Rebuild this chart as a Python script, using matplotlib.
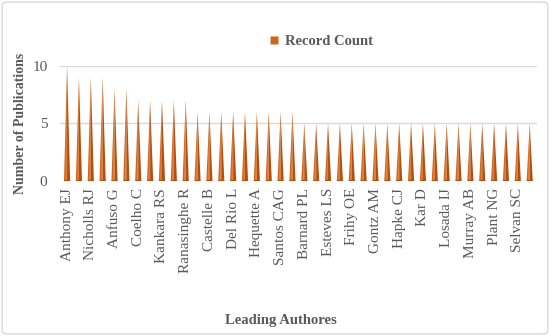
import numpy as np
import matplotlib as mpl; mpl.use("Agg")
import matplotlib.pyplot as plt
from matplotlib.patches import Ellipse, FancyBboxPatch
from matplotlib.lines import Line2D

# labelled authors (only every other category carries a visible label)
AUTHORS_SHOWN = ["Anthony EJ","Nicholls RJ","Anfuso G","Coelho C","Kankara RS",
                 "Ranasinghe R","Castelle B","Del Rio L","Hequette A","Santos CAG",
                 "Barnard PL","Esteves LS","Frihy OE","Gontz AM","Hapke CJ",
                 "Kar D","Losada IJ","Murray AB","Plant NG","Selvan SC"]
RECORD_COUNT = [10, 9, 9, 9, 8, 8, 7, 7, 7, 7,
                7, 6, 6, 6, 6, 6, 6, 6, 6, 6,
                5, 5, 5, 5, 5, 5, 5, 5, 5, 5,
                5, 5, 5, 5, 5, 5, 5, 5, 5, 5]
YTICKS = [0, 5, 10]

DARK = "#B4500F"; MID = "#D0661E"; LIGHT = "#EE9A5E"
GREY = "#595959"
mpl.rcParams.update({"font.family": ["Liberation Serif", "DejaVu Serif"]})

fig = plt.figure(figsize=(5.5, 3.36), dpi=100)
fig.patches.append(FancyBboxPatch((0.004, 0.006), 0.992, 0.988, boxstyle="round,pad=0,rounding_size=0.01",
                                  transform=fig.transFigure, fc="white", ec="#D9D9D9", lw=1.0, zorder=-10))
ax = fig.add_axes([0.109, 0.461, 0.867, 0.343])
ax.set_facecolor("none")

n = len(RECORD_COUNT)
xs = np.arange(n)
hw = 0.26
for x, v in zip(xs, RECORD_COUNT):
    # cone: darker right half, lighter left half
    ax.fill([x - hw, x, x], [0, v, 0], color=MID, lw=0, zorder=3)
    ax.fill([x, x + hw, x], [0, 0, v], color=DARK, lw=0, zorder=3)
    ax.fill([x - hw * 0.55, x, x - hw * 0.1], [0, v, 0], color=LIGHT, lw=0, alpha=0.55, zorder=4)
    ax.add_patch(Ellipse((x, 0), 2 * hw, 0.22, color=DARK, lw=0, zorder=5))

for t in YTICKS:
    ax.axhline(t, color="#D9D9D9", lw=1.0, zorder=1)

ax.set_xlim(-0.6, n - 0.4)
ax.set_ylim(0, 10)
ax.set_yticks(YTICKS)
ax.set_yticklabels([str(t) for t in YTICKS], fontsize=11, color=GREY)
ax.set_xticks(xs[::2])
ax.set_xticklabels(AUTHORS_SHOWN, rotation=90, fontsize=11, color=GREY)
ax.tick_params(length=0)
ax.tick_params(axis="x", pad=5)
ax.tick_params(axis="y", pad=9)
for s in ax.spines.values(): s.set_visible(False)

ax.set_ylabel("Number of Publications", fontsize=10, fontweight="bold", color=GREY)
ax.yaxis.set_label_coords(-0.069, 0.5)
fig.text(0.51, 0.045, "Leading Authores", fontsize=10.5, fontweight="bold", color=GREY, ha="center", va="center")

h = [Line2D([0], [0], marker="s", ls="", mfc=MID, mec="none", ms=5.5)]
fig.legend(h, ["Record Count"], loc="center", bbox_to_anchor=(0.583, 0.877), frameon=False,
           prop={"size": 10.5, "weight": "bold"}, labelcolor=GREY,
           handlelength=0.7, handletextpad=0.4)

fig.savefig("out.png", dpi=100)
